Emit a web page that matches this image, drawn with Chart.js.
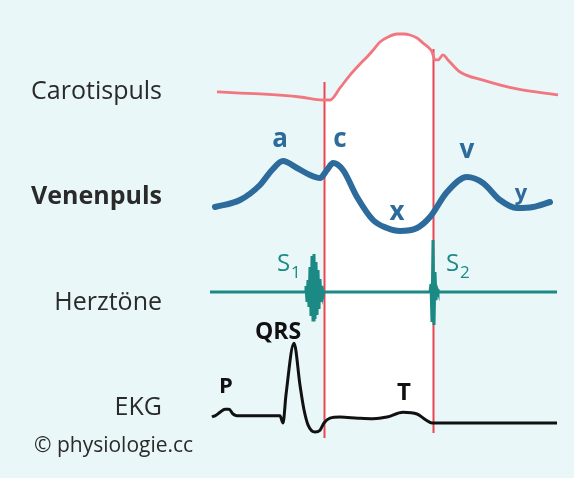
<!DOCTYPE html>
<html><head><meta charset="utf-8">
<script src="https://cdn.jsdelivr.net/npm/chart.js@4/dist/chart.umd.min.js"></script>
<style>html,body{margin:0;padding:0;background:#eaf7f9;}canvas{display:block;}</style>
</head><body>
<canvas id="c" width="574" height="478"></canvas>
<script>
// ---- DATA (time in ms) ----
const carotidT = [8, 94, 174, 220, 234, 254, 274, 294, 308, 322, 334, 350, 368, 382, 394, 408, 420, 430, 438, 444, 450, 460, 470, 494, 540, 608, 690];
const carotidP = [84.8, 83.6, 81.8, 80, 80, 87.2, 94.9, 101.5, 105.7, 110.4, 114.6, 117.6, 119.4, 119.4, 118.8, 117.0, 114.0, 111.6, 108.7, 103.9, 103.9, 106.9, 103.9, 96.7, 91.9, 86.6, 83.0];

const venousT = [4, 54, 94, 118, 140, 168, 194, 214, 228, 240, 260, 288, 320, 348, 374, 408, 434, 468, 508, 540, 574, 608, 640, 674];
const venousV = [2.4, 3.1, 4.6, 6.1, 7.0, 6.3, 5.6, 5.3, 6.1, 6.8, 6.1, 3.4, 1.1, 0.3, 0, 0.3, 1.4, 3.9, 5.4, 4.8, 3.1, 2.3, 2.4, 2.9];

const soundT = [-6, 184, 186, 188, 190, 192, 194, 196, 198, 200, 202, 204, 206, 208, 210, 212, 214, 216, 218, 220, 222, 434, 436, 438, 440, 442, 444, 446, 448, 450, 688];
const soundA = [0, 0, 0.6, -1.0, 1.2, -1.5, 2.5, -2.4, 3.6, -2.8, 3.8, -2.7, 3.0, -2.3, 2.2, -1.7, 1.3, -1.0, 0.6, -0.4, 0, 0, 0.8, -3.0, 5.2, -3.3, 2.0, -0.8, 0.3, 0, 0];

const ecgT = [-2, 6, 14, 24, 32, 40, 48, 134, 140, 146, 162, 174, 182, 190, 204, 214, 222, 234, 254, 290, 320, 348, 380, 408, 426, 438, 688];
const ecgMV = [0, 0.03, 0.08, 0.13, 0.13, 0.05, 0.02, 0.02, -0.1, 0.37, 1.23, 0.53, 0.12, -0.13, -0.25, -0.22, -0.1, -0.02, 0, -0.02, -0.03, 0, 0.08, 0.05, -0.05, -0.1, -0.1];

const eventTimes = [222, 439];           // start / end of ejection
const traceLabels = ['Carotispuls', 'Venenpuls', 'Herztöne', 'EKG'];
const venousWaves = ['a', 'c', 'x', 'v', 'y'];
const ecgWaves = ['P', 'QRS', 'T'];
const soundNames = ['1', '2'];
const credit = '© physiologie.cc';

// ---- STYLE / LAYOUT ----
const W = 574, H = 478;
const C = { carotid: '#f2767f', venous: '#2c6b9b', sound: '#1b8a84', ecg: '#111111', event: '#e94652', text: '#2a2a2a', bg: '#eaf7f9' };
function band(v0, p0, pxPerUnit) { const max = v0 + p0 / pxPerUnit; return { min: max - H / pxPerUnit, max }; }
const yCarBand = band(80, 100, 1.675);
const yVenBand = band(0, 231, 10);
const ySndBand = band(0, 292, 10);
const yEcgBand = band(0, 417, 60);

const toXY = (xs, ys) => xs.map((x, i) => ({ x, y: ys[i] }));

const plugin = {
  id: 'decor',
  beforeDatasetsDraw(chart) {
    const ctx = chart.ctx, xs = chart.scales.x;
    const x1 = xs.getPixelForValue(eventTimes[0]), x2 = xs.getPixelForValue(eventTimes[1]);
    const car = chart.getDatasetMeta(0).data, ecg = chart.getDatasetMeta(3).data;
    ctx.save();
    ctx.beginPath(); ctx.rect(x1, 0, x2 - x1, H); ctx.clip();
    ctx.beginPath();
    car.forEach((p, i) => i ? ctx.lineTo(p.x, p.y) : ctx.moveTo(p.x, p.y));
    for (let i = ecg.length - 1; i >= 0; i--) ctx.lineTo(ecg[i].x, ecg[i].y);
    ctx.closePath();
    ctx.fillStyle = '#ffffff'; ctx.fill();
    ctx.restore();
    const tops = [82, 49], bottoms = [438, 433];
    ctx.save();
    ctx.strokeStyle = C.event; ctx.lineWidth = 2;
    eventTimes.forEach((t, i) => {
      const x = Math.round(xs.getPixelForValue(t)) + 0.5;
      ctx.beginPath(); ctx.moveTo(x, tops[i]); ctx.lineTo(x, bottoms[i]); ctx.stroke();
    });
    ctx.restore();
  },
  afterDraw(chart) {
    const ctx = chart.ctx;
    ctx.save();
    ctx.textBaseline = 'alphabetic';
    // left trace labels
    ctx.fillStyle = C.text; ctx.textAlign = 'right';
    const lab = [[traceLabels[0], 99, '400'], [traceLabels[1], 204, '700'], [traceLabels[2], 310, '400'], [traceLabels[3], 415, '400']];
    lab.forEach(([t, y, w]) => { ctx.font = w + ' 25px "Open Sans"'; ctx.fillText(t, 162, y); });
    ctx.textAlign = 'left'; ctx.font = '400 21px "Open Sans"'; ctx.fillText(credit, 34, 452);
    // venous waves
    ctx.fillStyle = C.venous; ctx.textAlign = 'center';
    const vpos = [[280, 147, 26], [340, 147, 26], [397, 220, 26], [467, 158, 26], [521, 200, 22]];
    venousWaves.forEach((t, i) => { ctx.font = '700 ' + vpos[i][2] + 'px "Open Sans"'; ctx.fillText(t, vpos[i][0], vpos[i][1]); });
    // ecg waves
    ctx.fillStyle = C.ecg;
    const epos = [[226, 393, 22], [278, 339, 23], [404, 400, 24]];
    ecgWaves.forEach((t, i) => { ctx.font = '700 ' + epos[i][2] + 'px "Open Sans"'; ctx.fillText(t, epos[i][0], epos[i][1]); });
    // heart sounds
    ctx.fillStyle = C.sound; ctx.textAlign = 'left';
    const spos = [[277, 271], [446, 271]];
    soundNames.forEach((n, i) => {
      ctx.font = '400 24px "Open Sans"'; ctx.fillText('S', spos[i][0], spos[i][1]);
      ctx.font = '400 17px "Open Sans"'; ctx.fillText(n, spos[i][0] + 14, spos[i][1] + 7);
    });
    ctx.restore();
  }
};

new Chart(document.getElementById('c'), {
  type: 'line',
  data: {
    datasets: [
      { label: traceLabels[0], data: toXY(carotidT, carotidP), yAxisID: 'yCar', borderColor: C.carotid, borderWidth: 2.8, cubicInterpolationMode: 'monotone', pointRadius: 0 },
      { label: traceLabels[1], data: toXY(venousT, venousV), yAxisID: 'yVen', borderColor: C.venous, borderWidth: 6, cubicInterpolationMode: 'monotone', pointRadius: 0, borderCapStyle: 'round' },
      { label: traceLabels[2], data: toXY(soundT, soundA), yAxisID: 'ySnd', borderColor: C.sound, borderWidth: 3, tension: 0, pointRadius: 0 },
      { label: traceLabels[3], data: toXY(ecgT, ecgMV), yAxisID: 'yEcg', borderColor: C.ecg, borderWidth: 3, cubicInterpolationMode: 'monotone', pointRadius: 0 }
    ]
  },
  options: {
    responsive: false, animation: false, events: [],
    layout: { padding: 0 },
    plugins: { legend: { display: false }, tooltip: { enabled: false } },
    scales: {
      x: { type: 'linear', display: false, min: -426, max: 722 },
      yCar: { display: false, min: yCarBand.min, max: yCarBand.max },
      yVen: { display: false, min: yVenBand.min, max: yVenBand.max },
      ySnd: { display: false, min: ySndBand.min, max: ySndBand.max },
      yEcg: { display: false, min: yEcgBand.min, max: yEcgBand.max }
    }
  },
  plugins: [plugin]
});
</script>
</body></html>
